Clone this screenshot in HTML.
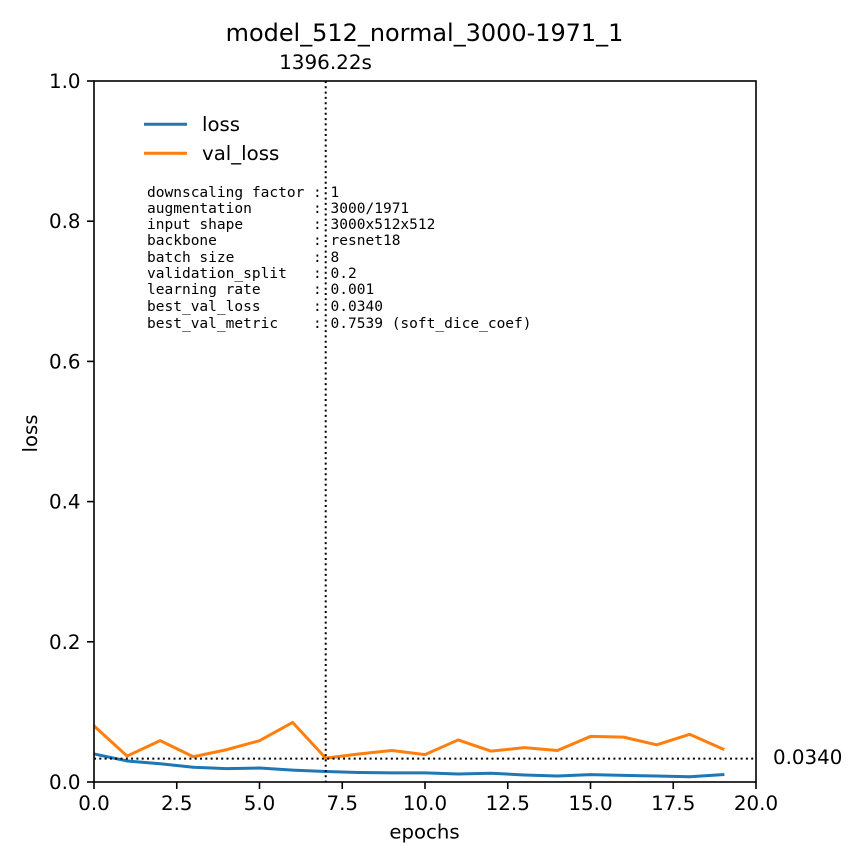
<!DOCTYPE html>
<html>
<head>
<meta charset="utf-8">
<style>
html,body{margin:0;padding:0;background:#fff}
svg{display:block}
text{font-family:"DejaVu Sans","Liberation Sans",sans-serif;fill:#000}
.mono{font-family:"DejaVu Sans Mono","Liberation Mono",monospace;font-size:14.53px;white-space:pre}
</style>
</head>
<body>
<svg id="chart" width="864" height="864" viewBox="0 0 864 864" xmlns="http://www.w3.org/2000/svg">
<rect width="864" height="864" fill="#fff"/>
<text x="424.5" y="41" font-size="23.95" text-anchor="middle">model_512_normal_3000-1971_1</text>
<text x="325.5" y="69" font-size="19.95" text-anchor="middle">1396.22s</text>
<text x="424.5" y="838.5" font-size="19.7" text-anchor="middle">epochs</text>
<text transform="translate(37 433.5) rotate(-90)" font-size="19.7" text-anchor="middle">loss</text>
<g id="plot"></g>
<g>
<line x1="144" x2="187" y1="124.3" y2="124.3" stroke="#1f77b4" stroke-width="3"/>
<text x="202" y="131" font-size="19.7">loss</text>
<line x1="144" x2="187" y1="153.3" y2="153.3" stroke="#ff7f0e" stroke-width="3"/>
<text x="202" y="160" font-size="19.75">val_loss</text>
</g>
<g>
<text class="mono" x="147" y="197">downscaling factor : 1</text>
<text class="mono" x="147" y="213">augmentation       : 3000/1971</text>
<text class="mono" x="147" y="229">input shape        : 3000x512x512</text>
<text class="mono" x="147" y="245">backbone           : resnet18</text>
<text class="mono" x="147" y="262">batch size         : 8</text>
<text class="mono" x="147" y="278">validation_split   : 0.2</text>
<text class="mono" x="147" y="294">learning rate      : 0.001</text>
<text class="mono" x="147" y="311">best_val_loss      : 0.0340</text>
<text class="mono" x="147" y="328">best_val_metric    : 0.7539 (soft_dice_coef)</text>
</g>
</svg>
<script>
const lossValues = [0.040,0.030,0.026,0.021,0.019,0.020,0.017,0.015,0.0135,0.013,0.013,0.0115,0.0125,0.010,0.0085,0.0105,0.0095,0.0085,0.0075,0.0105];
const valLossValues = [0.080,0.037,0.059,0.036,0.046,0.059,0.085,0.034,0.040,0.045,0.039,0.060,0.044,0.049,0.045,0.065,0.064,0.053,0.068,0.047];
const xTicks = [0,2.5,5,7.5,10,12.5,15,17.5,20];
const xTickLabels = ['0.0','2.5','5.0','7.5','10.0','12.5','15.0','17.5','20.0'];
const yTicks = [0,0.2,0.4,0.6,0.8,1];
const yTickLabels = ['0.0','0.2','0.4','0.6','0.8','1.0'];
const bestEpoch = 7;
const bestValLoss = 0.034;
const bestValLabel = '0.0340';

const NS = 'http://www.w3.org/2000/svg';
const plot = document.getElementById('plot');
const L = 94, R = 756, T = 81, B = 782;
const xScale = v => L + (v / 20) * (R - L);
const yScale = v => B - v * (B - T);

function line(x1, y1, x2, y2, dash) {
  const el = document.createElementNS(NS, 'line');
  el.setAttribute('x1', x1);
  el.setAttribute('y1', y1);
  el.setAttribute('x2', x2);
  el.setAttribute('y2', y2);
  el.setAttribute('stroke', '#000');
  el.setAttribute('stroke-width', dash ? 2 : 1.6);
  if (dash) el.setAttribute('stroke-dasharray', '2 3.3');
  plot.appendChild(el);
  return el;
}
function label(x, y, str, anchor) {
  const el = document.createElementNS(NS, 'text');
  el.setAttribute('x', x);
  el.setAttribute('y', y);
  el.setAttribute('font-size', 19.85);
  el.setAttribute('text-anchor', anchor);
  el.textContent = str;
  plot.appendChild(el);
  return el;
}
function series(values, color) {
  const el = document.createElementNS(NS, 'polyline');
  el.setAttribute('points', values.map((v, i) => xScale(i) + ',' + yScale(v)).join(' '));
  el.setAttribute('fill', 'none');
  el.setAttribute('stroke', color);
  el.setAttribute('stroke-width', 3);
  el.setAttribute('stroke-linejoin', 'round');
  el.setAttribute('stroke-linecap', 'square');
  plot.appendChild(el);
  return el;
}

const clip = document.createElementNS(NS, 'clipPath');
clip.setAttribute('id', 'plot-clip');
const clipRect = document.createElementNS(NS, 'rect');
clipRect.setAttribute('x', L);
clipRect.setAttribute('y', T);
clipRect.setAttribute('width', R - L);
clipRect.setAttribute('height', B - T);
clip.appendChild(clipRect);
plot.appendChild(clip);

const lossLine = series(lossValues, '#1f77b4');
lossLine.setAttribute('clip-path', 'url(#plot-clip)');



const valLine = series(valLossValues, '#ff7f0e');
valLine.setAttribute('clip-path', 'url(#plot-clip)');



const vRef = line(xScale(bestEpoch), T, xScale(bestEpoch), B, true);



const hRef = line(L, yScale(bestValLoss) + 0.5, R, yScale(bestValLoss) + 0.5, true);



const bestLabel = label(773, yScale(bestValLoss) + 6, bestValLabel, 'start');



xTicks.forEach((t, i) => {
  const tick = line(xScale(t), B, xScale(t), B + 7, false);
  
  
  const text = label(xScale(t), B + 28, xTickLabels[i], 'middle');
  
  
});
yTicks.forEach((t, i) => {
  const tick = line(L - 7, yScale(t), L, yScale(t), false);
  
  
  const text = label(L - 14.5, yScale(t) + 7, yTickLabels[i], 'end');
  
  
  text.setAttribute('dx', '1');
});

const frame = document.createElementNS(NS, 'rect');
frame.setAttribute('x', L);
frame.setAttribute('y', T);
frame.setAttribute('width', R - L);
frame.setAttribute('height', B - T);
frame.setAttribute('fill', 'none');
frame.setAttribute('stroke', '#000');
frame.setAttribute('stroke-width', 1.6);


plot.appendChild(frame);
</script>
</body>
</html>
